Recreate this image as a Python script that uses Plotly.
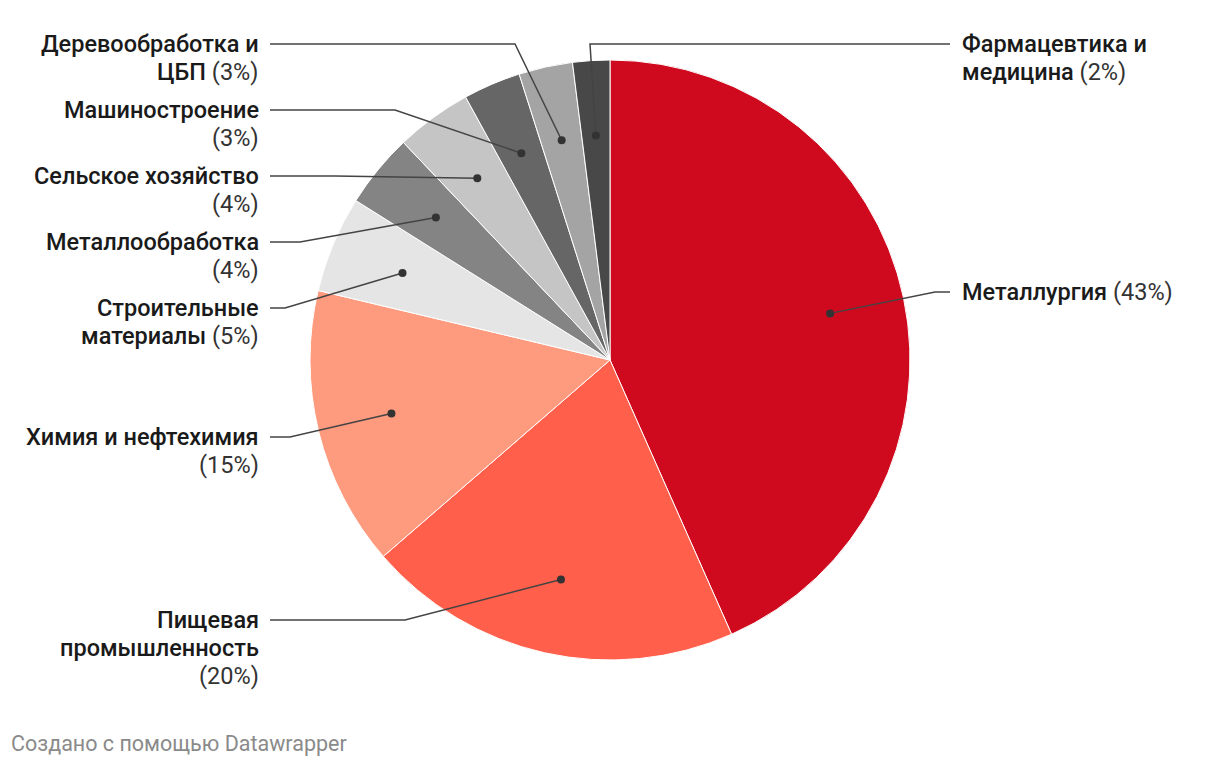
import math
import plotly.graph_objects as go

# данные (доли отраслей, %)
names = ['Металлургия', 'Пищевая промышленность', 'Химия и нефтехимия',
         'Строительные материалы', 'Металлообработка', 'Сельское хозяйство',
         'Машиностроение', 'Деревообработка и ЦБП', 'Фармацевтика и медицина']
values = [43.4, 20.3, 15.1, 5.2, 4.0, 4.1, 3.1, 2.9, 2.0]
colors = ['#cf0a1f', '#ff5f4b', '#fe9a7e', '#e5e5e5', '#848484',
          '#c5c5c5', '#666666', '#a4a4a4', '#484848']
# подписи: строки жирной части и перенос перед процентом
label_bold = [['Металлургия'], ['Пищевая', 'промышленность'], ['Химия и нефтехимия'],
              ['Строительные', 'материалы'], ['Металлообработка'], ['Сельское хозяйство'],
              ['Машиностроение'], ['Деревообработка и', 'ЦБП'], ['Фармацевтика и', 'медицина']]
pct_newline = [False, True, True, False, True, True, True, False, False]

# раскладка подписей (пиксели страницы)
side = ['r', 'l', 'l', 'l', 'l', 'l', 'l', 'l', 'r']
label_y = [292, 620, 437, 308, 242, 176, 110, 44, 44]
elbow_x = [935, 405, 290, 285, 300, 335, 395, 515, 590]
line_h = 28

OFF = 8  # отступ body на странице
W, H = 1220 - OFF, 766 - OFF
cx, cy, R = 610, 360, 300

fig = go.Figure()
fig.add_trace(go.Pie(
    labels=names, values=values, sort=False, direction='clockwise', rotation=0,
    marker=dict(colors=colors, line=dict(color='white', width=1)),
    textinfo='none', hoverinfo='label+percent', showlegend=False,
    domain=dict(x=[(cx - R - OFF) / W, (cx + R - OFF) / W],
                y=[1 - (cy + R - OFF) / H, 1 - (cy - R - OFF) / H]),
))

total = sum(values)
shapes = []
annotations = []
cum = 0
for i, v in enumerate(values):
    mid = (cum + v / 2) / total * 2 * math.pi
    cum += v
    dx = cx + 0.75 * R * math.sin(mid)
    dy = cy - 0.75 * R * math.cos(mid)
    ly = label_y[i]
    end_x = 950 if side[i] == 'r' else 270
    shapes.append(dict(type='path', xref='x', yref='y', layer='above',
                       path=f'M{dx},{dy} L{elbow_x[i]},{ly} L{end_x},{ly}',
                       line=dict(color='#444444', width=1.5)))
    shapes.append(dict(type='circle', xref='x', yref='y', layer='above',
                       x0=dx - 4, x1=dx + 4, y0=dy - 4, y1=dy + 4,
                       fillcolor='#333333', line=dict(width=0)))
    pct = f'<span style="color:#333333;font-weight:400">({round(v)}%)</span>'
    lines = [f'<span style="font-weight:500">{t}</span>' for t in label_bold[i]]
    if pct_newline[i]:
        lines.append(pct)
    else:
        lines[-1] += ' ' + pct
    for k, t in enumerate(lines):
        annotations.append(dict(
            xref='x', yref='y', x=960 if side[i] == 'r' else 261, y=ly + k * line_h,
            xanchor='left' if side[i] == 'r' else 'right', yanchor='middle',
            showarrow=False, text=t,
            font=dict(family='Roboto', size=23.5, color='#1a1a1a'),
        ))

annotations.append(dict(xref='x', yref='y', x=9, y=743, xanchor='left', yanchor='middle',
                        showarrow=False, text='Создано с помощью Datawrapper',
                        font=dict(family='Roboto', size=21.5, color='#8a8a8a')))

fig.update_layout(
    width=W, height=H, margin=dict(l=0, r=0, t=0, b=0),
    paper_bgcolor='white', plot_bgcolor='rgba(0,0,0,0)',
    xaxis=dict(range=[OFF, 1220], visible=False, fixedrange=True),
    yaxis=dict(range=[766, OFF], visible=False, fixedrange=True),
    shapes=shapes, annotations=annotations,
)
fig.write_html('out.html')
